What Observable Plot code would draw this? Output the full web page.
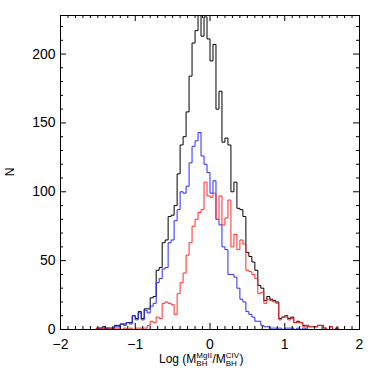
<!DOCTYPE html>
<html><head><meta charset="utf-8">
<script src="https://cdn.jsdelivr.net/npm/d3@7"></script>
<script src="https://cdn.jsdelivr.net/npm/@observablehq/plot@0.6"></script>
<style>body{margin:0;background:#fff} svg{display:block}</style>
</head><body><div id="chart"></div>
<script>
// Histogram bins: left edge of first bin and bin width
const binStart = -1.56;
const binWidth = 0.04;

// Blue histogram counts
const blueCounts = [0,0,1,1,1,0,1,2,2,4,3,5,4,10,7,12,7,14,12,17,19,34,37,44,45,63,65,79,87,100,99,104,121,133,137,143,126,120,114,99,108,80,76,60,58,40,40,38,30,22,20,13,11,9,6,6,3,2,2,1,1,1,1,0,1,1,1,0,1,0,1,0,0,0,0,0,0,0,0,0,0,0];
// Red histogram counts
const redCounts = [0,1,0,1,0,1,0,1,1,0,1,0,1,0,1,1,1,1,3,6,5,9,8,19,20,19,18,11,26,34,41,54,63,75,80,85,87,107,97,96,99,80,97,76,81,94,60,69,58,65,62,43,42,40,37,26,27,19,22,21,20,19,7,9,9,7,8,5,5,5,2,3,2,2,2,3,3,1,0,2,0,1];
// Total (black) histogram counts
const totalCounts = [0,1,1,2,1,1,1,3,3,4,4,5,5,10,8,13,8,15,15,23,24,43,45,63,65,82,83,90,113,134,140,158,184,208,217,228,213,227,211,195,207,160,173,136,139,134,100,107,88,87,82,56,53,49,43,32,30,21,24,22,21,20,8,9,10,8,9,5,6,5,3,3,2,2,2,3,3,1,0,2,0,1];

const xTicks = [-2, -1, 0, 1, 2];
const yTicks = [0, 50, 100, 150, 200];
const xMinorStep = 0.1;
const yMinorStep = 10;
const xDomain = [-2, 2];
const yDomain = [0, 228];

const W = 374, H = 374, mL = 60, mR = 15, mT = 15, mB = 45;
const kx = (xDomain[1] - xDomain[0]) / (W - mL - mR);
const ky = (yDomain[1] - yDomain[0]) / (H - mT - mB);

function steps(counts) {
  const pts = counts.map((v, i) => ({x: binStart + i * binWidth, y: v}));
  pts.push({x: binStart + counts.length * binWidth, y: counts[counts.length - 1]});
  return pts;
}

const xMinor = d3.range(Math.round(xDomain[0] / xMinorStep), Math.round(xDomain[1] / xMinorStep) + 1)
  .map(i => +(i * xMinorStep).toFixed(2)).filter(v => !xTicks.includes(v));
const yMinor = d3.range(0, Math.floor(yDomain[1] / yMinorStep) + 1)
  .map(i => i * yMinorStep).filter(v => !yTicks.includes(v));

const majLen = 6, minLen = 3;
const fmt = d => d < 0 ? "\u2212" + Math.abs(d) : String(d);

const plot = Plot.plot({
  width: W, height: H,
  marginLeft: mL, marginRight: mR, marginTop: mT, marginBottom: mB,
  style: {fontFamily: "Liberation Sans, Arial, sans-serif", fontSize: "14px", background: "#fff", color: "#000"},
  x: {domain: xDomain},
  y: {domain: yDomain},
  marks: [
    Plot.line(steps(totalCounts), {x: "x", y: "y", curve: "step-after", stroke: "#000", strokeWidth: 1}),
    Plot.line(steps(blueCounts), {x: "x", y: "y", curve: "step-after", stroke: "#2a2aff", strokeWidth: 1}),
    Plot.line(steps(redCounts), {x: "x", y: "y", curve: "step-after", stroke: "#ff2a2a", strokeWidth: 1}),
    // ticks bottom/top
    Plot.ruleX(xTicks, {x: d => d, y1: yDomain[0], y2: yDomain[0] + majLen * ky, stroke: "#000"}),
    Plot.ruleX(xMinor, {x: d => d, y1: yDomain[0], y2: yDomain[0] + minLen * ky, stroke: "#000"}),
    Plot.ruleX(xTicks, {x: d => d, y1: yDomain[1], y2: yDomain[1] - majLen * ky, stroke: "#000"}),
    Plot.ruleX(xMinor, {x: d => d, y1: yDomain[1], y2: yDomain[1] - minLen * ky, stroke: "#000"}),
    // ticks left/right
    Plot.ruleY(yTicks, {y: d => d, x1: xDomain[0], x2: xDomain[0] + majLen * kx, stroke: "#000"}),
    Plot.ruleY(yMinor, {y: d => d, x1: xDomain[0], x2: xDomain[0] + minLen * kx, stroke: "#000"}),
    Plot.ruleY(yTicks, {y: d => d, x1: xDomain[1], x2: xDomain[1] - majLen * kx, stroke: "#000"}),
    Plot.ruleY(yMinor, {y: d => d, x1: xDomain[1], x2: xDomain[1] - minLen * kx, stroke: "#000"}),
    Plot.axisX({ticks: xTicks, tickSize: 0, tickPadding: 10, tickFormat: fmt, label: null}),
    Plot.axisY({ticks: yTicks, tickSize: 0, tickPadding: 5, tickFormat: fmt, label: null}),
    Plot.frame({stroke: "#000"})
  ]
});
document.getElementById("chart").appendChild(plot);

// Axis titles with sub/superscripts
const svg = d3.select(plot);
svg.append("text").attr("transform", `translate(14,${mT + (H - mT - mB) / 2}) rotate(-90)`)
  .attr("text-anchor", "middle").attr("font-size", 12).attr("fill", "#000").text("N");

const g = svg.append("g").attr("font-size", 12).attr("fill", "#000").attr("text-anchor", "start");
const baseY = 363;
let cx = 0;
function piece(txt, size, dy) {
  const t = g.append("text").attr("x", cx).attr("y", baseY + dy)
    .attr("font-size", size).attr("text-anchor", "start").text(txt);
  return t.node().getComputedTextLength();
}
function stack(sup, sub) {
  const w1 = piece(sup, 8, -5.5);
  const w2 = piece(sub, 8, 3);
  cx += Math.max(w1, w2) + 0.5;
}
cx += piece("Log (M", 12, 0);
stack("MgII", "BH");
cx += piece("/M", 12, 0);
stack("CIV", "BH");
cx += piece(")", 12, 0);
const startX = 159;
g.attr("transform", `translate(${startX},0)`);
</script>
</body></html>
